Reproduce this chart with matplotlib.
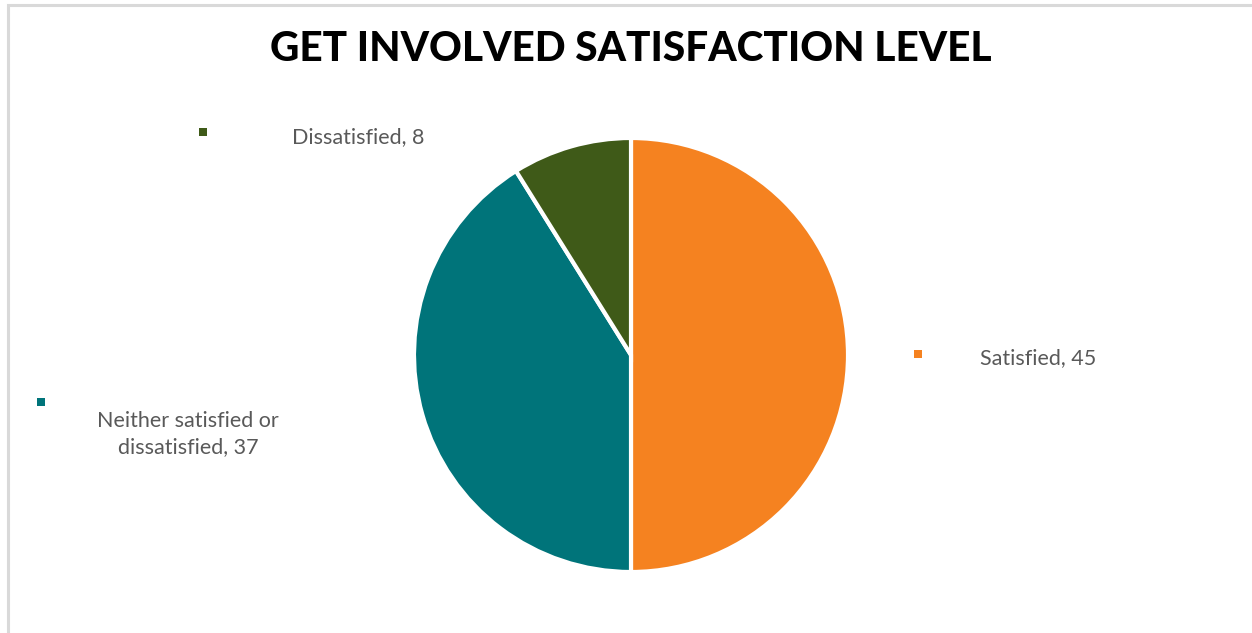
import matplotlib.pyplot as plt
from matplotlib.patches import Rectangle

labels = ['Satisfied', 'Neither satisfied or\ndissatisfied', 'Dissatisfied']
values = [45, 37, 8]
colors = ['#F58220', '#00747A', '#3F5A18']

W, H = 1252, 633
fig = plt.figure(figsize=(W / 100, H / 100), dpi=100)
ax = fig.add_axes([0, 0, 1, 1])

# chart frame
ax.add_patch(Rectangle((7.5, -10), W + 20, H - 4.5 + 10, fill=False,
                       edgecolor='#D9D9D9', linewidth=2.2))

ax.text(631, H - 49, 'GET INVOLVED SATISFACTION LEVEL', ha='center', va='center',
        fontsize=29.2, fontweight='black', family='Lato', color='black')

ax.pie(values, colors=colors, startangle=90, counterclock=False,
       center=(631, H - 355), radius=217, frame=True,
       wedgeprops=dict(edgecolor='white', linewidth=3))
ax.set_xlim(0, W)
ax.set_ylim(0, H)
ax.set_aspect('equal')
ax.axis('off')

# data labels with legend keys
label_pos = [(1038, H - 358), (188, H - 434), (358, H - 137)]
key_pos = [(918, H - 354), (41, H - 402), (203, H - 132)]
for lab, v, c, (tx, ty), (kx, ky) in zip(labels, values, colors, label_pos, key_pos):
    ax.text(tx, ty, f'{lab}, {v}', ha='center', va='center', fontsize=15.5,
            family='Lato', color='#595959', linespacing=1.35)
    ax.add_patch(Rectangle((kx - 4, ky - 4), 8, 8, color=c, linewidth=0))

fig.savefig('out.png', dpi=100)
